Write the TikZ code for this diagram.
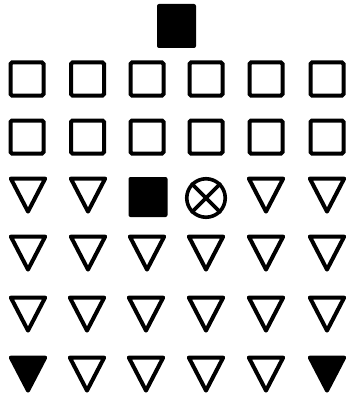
\documentclass[tikz,border=0pt]{standalone}
\usepackage{tikz}
\usetikzlibrary{shapes.geometric, positioning}

\begin{document}
\begin{tikzpicture}[
        x=1pt, y=-1pt,
        caja/.style={
            rectangle,
            rounded corners=1.5pt,
            draw=black,
            line width=4pt,
            minimum size=33pt,
            inner sep=0pt
        },
        cajallena/.style={
            rectangle,
            rounded corners=2pt,
            fill=black,
            minimum width=39pt,
            minimum height=40pt,
            inner sep=0pt
        },
        triangulo/.style={
            isosceles triangle,
            isosceles triangle apex angle=55,
            shape border rotate=-90,
            draw=black,
            line width=4pt,
            line join=round,
            minimum width=33pt,
            minimum height=33pt,
            inner sep=0pt,
            yshift=6pt
        },
        triangulolleno/.style={
            triangulo,
            fill=black
        },
        valvula/.style={
            circle,
            draw=black,
            line width=3.6pt,
            minimum size=38.5pt,
            inner sep=0pt
        }
    ]

    \useasboundingbox (0,0) rectangle (347,396);

    % fila superior
    \node[cajallena, minimum height=44pt] (cima) at (176.5,26) {};

    % cajas
    \node[caja] (c11) at (27,79) {};
    \node[caja] (c12) at (87.5,79) {};
    \node[caja] (c13) at (147,79) {};
    \node[caja] (c14) at (206,79) {};
    \node[caja] (c15) at (266,79) {};
    \node[caja] (c16) at (327,79) {};

    \node[caja] (c21) at (27,137) {};
    \node[caja] (c22) at (87.5,137) {};
    \node[caja] (c23) at (147,137) {};
    \node[caja] (c24) at (206,137) {};
    \node[caja] (c25) at (266,137) {};
    \node[caja] (c26) at (327,137) {};

    % fila con valvula
    \node[triangulo] (t31) at (28,195) {};
    \node[triangulo] (t32) at (88,195) {};
    \node[cajallena] (c33) at (148,197) {};
    \node[valvula] (v34) at (206,198) {};
    \node[triangulo] (t35) at (266,195) {};
    \node[triangulo] (t36) at (327,195) {};

    \draw[line width=3.6pt] (v34.45) -- (v34.225);
    \draw[line width=3.6pt] (v34.135) -- (v34.315);

    % triangulos
    \node[triangulo] (t41) at (28,253) {};
    \node[triangulo] (t42) at (88,253) {};
    \node[triangulo] (t43) at (147,253) {};
    \node[triangulo] (t44) at (206,253) {};
    \node[triangulo] (t45) at (266,253) {};
    \node[triangulo] (t46) at (327,253) {};

    \node[triangulo] (t51) at (28,314) {};
    \node[triangulo] (t52) at (87,314) {};
    \node[triangulo] (t53) at (146,314) {};
    \node[triangulo] (t54) at (206,314) {};
    \node[triangulo] (t55) at (266,314) {};
    \node[triangulo] (t56) at (327,314) {};

    \node[triangulolleno] (t61) at (28,374) {};
    \node[triangulo] (t62) at (87,374) {};
    \node[triangulo] (t63) at (146,374) {};
    \node[triangulo] (t64) at (206,374) {};
    \node[triangulo] (t65) at (266,374) {};
    \node[triangulolleno] (t66) at (327,374) {};

\end{tikzpicture}
\end{document}
